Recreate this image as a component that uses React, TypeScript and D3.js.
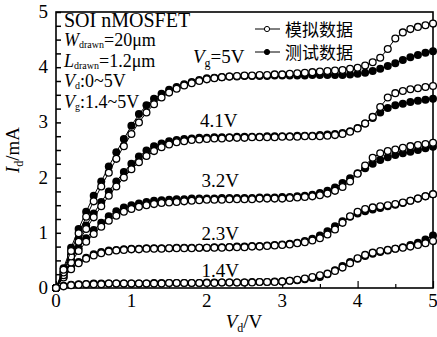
import * as d3 from "d3";
import React, { useRef, useEffect } from "react";

// drain voltage, V
const vd = [0, 0.1, 0.2, 0.3, 0.4, 0.5, 0.6, 0.7, 0.8, 0.9, 1.0,
  1.1, 1.2, 1.3, 1.4, 1.5, 1.6, 1.7, 1.8, 1.9, 2.0,
  2.1, 2.2, 2.3, 2.4, 2.5, 2.6, 2.7, 2.8, 2.9, 3.0,
  3.1, 3.2, 3.3, 3.4, 3.5, 3.6, 3.7, 3.8, 3.9, 4.0,
  4.1, 4.2, 4.3, 4.4, 4.5, 4.6, 4.7, 4.8, 4.9, 5.0];

// measured (filled) and simulated (open), Id in mA
const meas5 = [0, 0.36, 0.73, 1.07, 1.38, 1.67, 1.93, 2.2, 2.46, 2.7, 2.94,
  3.15, 3.31, 3.43, 3.52, 3.59, 3.64, 3.69, 3.73, 3.77, 3.8,
  3.81, 3.82, 3.83, 3.83, 3.84, 3.84, 3.84, 3.84, 3.85, 3.85,
  3.85, 3.85, 3.85, 3.86, 3.86, 3.86, 3.86, 3.86, 3.87, 3.88,
  3.9, 3.93, 3.97, 4.02, 4.07, 4.13, 4.18, 4.22, 4.26, 4.29];
const sim5 = [0, 0.33, 0.67, 0.99, 1.29, 1.57, 1.84, 2.09, 2.34, 2.57, 2.79,
  3.0, 3.18, 3.33, 3.45, 3.54, 3.61, 3.67, 3.71, 3.75, 3.78,
  3.8, 3.82, 3.83, 3.84, 3.85, 3.85, 3.86, 3.86, 3.87, 3.87,
  3.88, 3.89, 3.9, 3.91, 3.92, 3.93, 3.94, 3.95, 3.97, 3.99,
  4.03, 4.09, 4.17, 4.33, 4.52, 4.63, 4.69, 4.73, 4.76, 4.79];

const meas41 = [0, 0.3, 0.61, 0.89, 1.13, 1.35, 1.56, 1.75, 1.93, 2.1, 2.25,
  2.38, 2.49, 2.57, 2.62, 2.66, 2.68, 2.7, 2.71, 2.72, 2.72,
  2.73, 2.73, 2.73, 2.74, 2.74, 2.74, 2.74, 2.75, 2.75, 2.75,
  2.75, 2.76, 2.76, 2.76, 2.77, 2.78, 2.79, 2.81, 2.84, 2.9,
  2.98, 3.08, 3.18, 3.26, 3.31, 3.34, 3.37, 3.39, 3.41, 3.43];
const sim41 = [0, 0.28, 0.57, 0.84, 1.07, 1.28, 1.48, 1.67, 1.84, 2.0, 2.15,
  2.28, 2.39, 2.48, 2.55, 2.6, 2.64, 2.66, 2.68, 2.69, 2.7,
  2.71, 2.71, 2.72, 2.72, 2.72, 2.73, 2.73, 2.73, 2.73, 2.74,
  2.74, 2.74, 2.75, 2.75, 2.75, 2.76, 2.77, 2.79, 2.83, 2.89,
  2.98, 3.1, 3.28, 3.45, 3.53, 3.57, 3.6, 3.62, 3.64, 3.66];

const meas32 = [0, 0.25, 0.5, 0.72, 0.9, 1.05, 1.18, 1.3, 1.39, 1.46, 1.5,
  1.53, 1.56, 1.58, 1.59, 1.6, 1.61, 1.61, 1.62, 1.62, 1.62,
  1.62, 1.63, 1.63, 1.63, 1.63, 1.63, 1.64, 1.64, 1.64, 1.65,
  1.65, 1.66, 1.67, 1.69, 1.72, 1.76, 1.82, 1.9, 1.99, 2.08,
  2.17, 2.25, 2.32, 2.37, 2.41, 2.44, 2.47, 2.5, 2.53, 2.56];
const sim32 = [0, 0.23, 0.46, 0.67, 0.84, 0.98, 1.11, 1.22, 1.31, 1.38, 1.43,
  1.47, 1.5, 1.52, 1.54, 1.55, 1.56, 1.57, 1.58, 1.59, 1.6,
  1.6, 1.6, 1.61, 1.61, 1.61, 1.61, 1.62, 1.62, 1.62, 1.62,
  1.63, 1.64, 1.65, 1.66, 1.68, 1.71, 1.76, 1.83, 1.93, 2.07,
  2.22, 2.36, 2.44, 2.48, 2.51, 2.54, 2.57, 2.59, 2.61, 2.63];

const meas23 = [0, 0.2, 0.36, 0.47, 0.55, 0.61, 0.65, 0.68, 0.69, 0.7, 0.71,
  0.71, 0.72, 0.72, 0.72, 0.72, 0.73, 0.73, 0.73, 0.73, 0.73,
  0.74, 0.74, 0.74, 0.75, 0.75, 0.76, 0.76, 0.77, 0.78, 0.79,
  0.8, 0.82, 0.85, 0.89, 0.95, 1.03, 1.12, 1.21, 1.29, 1.35,
  1.39, 1.42, 1.45, 1.48, 1.51, 1.54, 1.58, 1.62, 1.66, 1.7];
const sim23 = [0, 0.19, 0.34, 0.45, 0.53, 0.59, 0.63, 0.66, 0.68, 0.69, 0.7,
  0.7, 0.71, 0.71, 0.71, 0.72, 0.72, 0.72, 0.72, 0.73, 0.73,
  0.73, 0.73, 0.74, 0.74, 0.74, 0.75, 0.75, 0.76, 0.77, 0.78,
  0.79, 0.81, 0.83, 0.86, 0.9, 0.97, 1.06, 1.18, 1.3, 1.38,
  1.43, 1.46, 1.48, 1.5, 1.52, 1.55, 1.58, 1.62, 1.66, 1.7];

const meas14 = [0, 0.04, 0.06, 0.07, 0.07, 0.08, 0.08, 0.08, 0.08, 0.08, 0.08,
  0.08, 0.08, 0.09, 0.09, 0.09, 0.09, 0.09, 0.09, 0.09, 0.1,
  0.1, 0.1, 0.1, 0.1, 0.1, 0.11, 0.11, 0.11, 0.12, 0.12,
  0.13, 0.14, 0.16, 0.18, 0.2, 0.25, 0.32, 0.4, 0.47, 0.53,
  0.58, 0.62, 0.65, 0.68, 0.71, 0.74, 0.78, 0.82, 0.88, 0.95];
const sim14 = [0, 0.03, 0.05, 0.06, 0.07, 0.07, 0.07, 0.08, 0.08, 0.08, 0.08,
  0.08, 0.08, 0.08, 0.08, 0.09, 0.09, 0.09, 0.09, 0.09, 0.09,
  0.09, 0.1, 0.1, 0.1, 0.1, 0.1, 0.11, 0.11, 0.11, 0.12,
  0.13, 0.15, 0.17, 0.2, 0.23, 0.26, 0.31, 0.37, 0.45, 0.54,
  0.6, 0.64, 0.67, 0.69, 0.71, 0.73, 0.75, 0.78, 0.81, 0.85];

const measured = [meas14, meas23, meas32, meas41, meas5];
const simulated = [sim14, sim23, sim32, sim41, sim5];

// curve labels: text, Vd, Id where the label sits
const curveLabels = [
  { text: "1.4V", vd: 1.93, id: 0.2 },
  { text: "2.3V", vd: 1.93, id: 0.87 },
  { text: "3.2V", vd: 1.93, id: 1.83 },
  { text: "4.1V", vd: 1.91, id: 2.92 },
];
const xTicks = [0, 1, 2, 3, 4, 5];
const yTicks = [0, 1, 2, 3, 4, 5];
const legendNames = ["模拟数据", "测试数据"];

const serif = "'Liberation Serif', 'Times New Roman', serif";
const cjk = "'Noto Sans CJK SC', sans-serif";

function App() {
  const svgRef = useRef(null);
  const width = 437;
  const height = 337;
  const left = 56, right = 433, top = 12, bottom = 288;

  useEffect(() => {
    const svg = d3.select(svgRef.current);
    svg.selectAll("*").remove();

    const x = d3.scaleLinear().domain([0, 5]).range([left, right]);
    const y = d3.scaleLinear().domain([0, 5]).range([bottom, top]);

    svg.append("rect").attr("width", width).attr("height", height).attr("fill", "white");

    // frame
    svg.append("rect")
      .attr("x", left).attr("y", top)
      .attr("width", right - left).attr("height", bottom - top)
      .attr("fill", "none").attr("stroke", "black").attr("stroke-width", 1.6);

    // inward ticks
    const yAxis = d3.axisRight(y).tickValues(d3.range(0, 5.01, 0.25)).tickSize(5).tickFormat(() => "");
    svg.append("g").attr("transform", `translate(${left},0)`).call(yAxis)
      .call(g => g.select(".domain").remove())
      .selectAll("line").attr("stroke-width", 1.5);
    const xAxis = d3.axisTop(x).tickValues(d3.range(0, 5.01, 0.5)).tickSize(4).tickFormat(() => "");
    svg.append("g").attr("transform", `translate(0,${bottom})`).call(xAxis)
      .call(g => g.select(".domain").remove())
      .selectAll("line")
      .attr("y2", (d: any) => (d % 1 === 0 ? -7 : -4))
      .attr("stroke-width", 1.2);

    // tick labels
    svg.append("g").selectAll("text").data(yTicks).enter().append("text")
      .attr("x", 48).attr("y", d => y(d) + 6)
      .attr("text-anchor", "end")
      .style("font-family", serif).style("font-size", "19px")
      .text(d => d);
    svg.append("g").selectAll("text").data(xTicks).enter().append("text")
      .attr("x", d => x(d)).attr("y", 307)
      .attr("text-anchor", "middle")
      .style("font-family", serif).style("font-size", "19px")
      .text(d => d);

    // axis titles
    const yt = svg.append("text")
      .attr("transform", "translate(19,150) rotate(-90)")
      .attr("text-anchor", "middle")
      .style("font-family", serif).style("font-size", "19px");
    yt.append("tspan").style("font-style", "italic").text("I");
    yt.append("tspan").attr("dy", 4).style("font-size", "12px").text("d");
    yt.append("tspan").attr("dy", -4).text("/mA");

    const xt = svg.append("text")
      .attr("x", 244).attr("y", 328)
      .attr("text-anchor", "middle")
      .style("font-family", serif).style("font-size", "19px");
    xt.append("tspan").style("font-style", "italic").text("V");
    xt.append("tspan").attr("dy", 4).style("font-size", "12px").text("d");
    xt.append("tspan").attr("dy", -4).text("/V");

    // curves
    const line = d3.line<number>().x((d, i) => x(vd[i])).y(d => y(d));
    measured.forEach(s => {
      svg.append("path").attr("d", line(s)).attr("fill", "none").attr("stroke", "black").attr("stroke-width", 1);
      svg.append("g").selectAll("circle").data(s).enter().append("circle")
        .attr("cx", (d, i) => x(vd[i])).attr("cy", d => y(d)).attr("r", 4)
        .attr("fill", "black");
    });
    simulated.forEach(s => {
      svg.append("path").attr("d", line(s)).attr("fill", "none").attr("stroke", "black").attr("stroke-width", 1);
      svg.append("g").selectAll("circle").data(s).enter().append("circle")
        .attr("cx", (d, i) => x(vd[i])).attr("cy", d => y(d)).attr("r", 3.4)
        .attr("fill", "white").attr("stroke", "black").attr("stroke-width", 1.3);
    });

    // curve labels
    svg.append("g").selectAll("text").data(curveLabels).enter().append("text")
      .attr("x", d => x(d.vd)).attr("y", d => y(d.id))
      .style("font-family", serif).style("font-size", "19px")
      .text(d => d.text);

    const vg = svg.append("text").attr("x", 193).attr("y", 63)
      .style("font-family", serif).style("font-size", "19px");
    vg.append("tspan").style("font-style", "italic").text("V");
    vg.append("tspan").attr("dy", 4).style("font-size", "12px").text("g");
    vg.append("tspan").attr("dy", -4).text("=5V");

    // device info block
    const info = svg.append("g").style("font-family", serif).style("font-size", "18px");
    info.append("text").attr("x", 64).attr("y", 27).style("font-size", "20px").text("SOI nMOSFET");
    const rows = [
      { v: "W", sub: "drawn", rest: "=20μm", yy: 46 },
      { v: "L", sub: "drawn", rest: "=1.2μm", yy: 66.5 },
      { v: "V", sub: "d", rest: ":0~5V", yy: 87 },
      { v: "V", sub: "g", rest: ":1.4~5V", yy: 107.5 },
    ];
    rows.forEach(rw => {
      const t = info.append("text").attr("x", 64).attr("y", rw.yy);
      t.append("tspan").style("font-style", "italic").text(rw.v);
      t.append("tspan").attr("dy", 2).style("font-size", "10px").text(rw.sub);
      t.append("tspan").attr("dy", -2).text(rw.rest);
    });

    // legend
    const lg = svg.append("g");
    legendNames.forEach((name, i) => {
      const ly = 29 + i * 23;
      lg.append("line").attr("x1", 255).attr("x2", 280).attr("y1", ly).attr("y2", ly)
        .attr("stroke", "black").attr("stroke-width", 1);
      lg.append("circle").attr("cx", 267).attr("cy", ly).attr("r", 2.6)
        .attr("fill", i === 0 ? "white" : "black").attr("stroke", "black").attr("stroke-width", 1);
      lg.append("text").attr("x", 285).attr("y", ly + 7)
        .style("font-family", cjk).style("font-size", "17px")
        .text(name);
    });
  }, []);

  return (
    <div style={{ position: "absolute", left: 0, top: 0 }}>
      <svg ref={svgRef} width={width} height={height} style={{ display: "block" }}></svg>
    </div>
  );
}

export default App;
